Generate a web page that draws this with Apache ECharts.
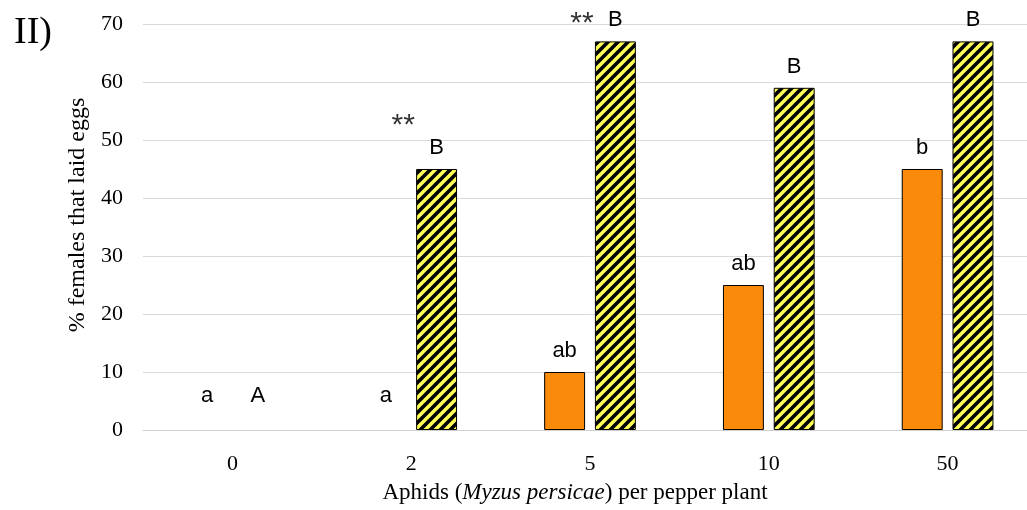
<!DOCTYPE html>
<html>
<head>
<meta charset="utf-8">
<script src="https://cdn.jsdelivr.net/npm/echarts@6/dist/echarts.min.js"></script>
<style>
  html, body { margin: 0; padding: 0; background: #fff; }
  #chart { width: 1027px; height: 510px; }
</style>
</head>
<body>
<div id="chart"></div>
<script>
// Aphid density treatments and oviposition results
const categories = ['0', '2', '5', '10', '50'];
const orangeValues = [0, 0, 10, 25, 45];
const stripedValues = [0, 45, 67, 59, 67];
const orangeLetters = ['a', 'a', 'ab', 'ab', 'b'];
const stripedLetters = ['A', 'B', 'B', 'B', 'B'];
// height at which the significance marks sit
const starLevels = [null, 52.4, 70, null, null];
const starMarks = ['', '**', '**', '', ''];

const SERIF = '"Liberation Serif", "DejaVu Serif", serif';
const SANS = '"Liberation Sans", "Noto Sans", sans-serif';

// yellow tile with black diagonal stripes
function stripePattern() {
  const s = 10;
  const c = document.createElement('canvas');
  c.width = s; c.height = s;
  const g = c.getContext('2d');
  g.fillStyle = '#ffff55';
  g.fillRect(0, 0, s, s);
  g.strokeStyle = '#000';
  g.lineWidth = 3.6;
  g.beginPath();
  g.moveTo(-2, s + 2); g.lineTo(s + 2, -2);
  g.moveTo(-2, 2); g.lineTo(2, -2);
  g.moveTo(s - 2, s + 2); g.lineTo(s + 2, s - 2);
  g.stroke();
  return c;
}

function barItems(values, letters) {
  return values.map((v, i) => ({
    value: v,
    itemStyle: v === 0 ? { borderWidth: 0 } : {},
    label: { distance: v === 0 ? 23 : 10, formatter: letters[i] }
  }));
}

const chart = echarts.init(document.getElementById('chart'));
chart.setOption({
  animation: false,
  title: {
    text: 'II)',
    left: 9, top: 9,
    textStyle: { fontFamily: SERIF, fontSize: 38, fontWeight: 'normal', color: '#000' }
  },
  grid: {
    left: 143, right: -10, top: 24, bottom: 80,
    containLabel: false,
    outerBoundsMode: 'none'
  },
  xAxis: {
    type: 'category',
    data: categories,
    axisTick: { show: false },
    axisLine: { lineStyle: { color: '#d0d0d0', width: 1 } },
    axisLabel: { fontFamily: SERIF, fontSize: 22, color: '#000', margin: 23 },
    name: '{n|Aphids (}{i|Myzus persicae}{n|) per pepper plant}',
    nameLocation: 'middle',
    nameGap: 51,
    nameTextStyle: {
      padding: [0, 30, 0, 0],
      rich: {
        n: { fontFamily: SERIF, fontSize: 23, color: '#000' },
        i: { fontFamily: SERIF, fontSize: 23, fontStyle: 'italic', color: '#000' }
      }
    }
  },
  yAxis: {
    type: 'value',
    min: 0, max: 70, interval: 10,
    axisLine: { show: false },
    axisTick: { show: false },
    splitLine: { lineStyle: { color: '#d9d9d9', width: 1 } },
    axisLabel: { fontFamily: SERIF, fontSize: 22, color: '#000', margin: 20 },
    name: '% females that laid eggs',
    nameLocation: 'middle',
    nameGap: 52,
    nameTextStyle: { fontFamily: SERIF, fontSize: 24, color: '#000', padding: [0, 0, 0, 24] }
  },
  series: [
    {
      type: 'bar',
      data: barItems(orangeValues, orangeLetters),
      barWidth: '22.9%',
      barGap: '24%',
      itemStyle: { color: '#fa8a0a', borderColor: '#000', borderWidth: 1 },
      label: { show: true, position: 'top', fontFamily: SANS, fontSize: 22, color: '#000' }
    },
    {
      type: 'bar',
      data: barItems(stripedValues, stripedLetters),
      barWidth: '22.9%',
      itemStyle: {
        color: { image: stripePattern(), repeat: 'repeat' },
        borderColor: '#000', borderWidth: 1
      },
      label: { show: true, position: 'top', fontFamily: SANS, fontSize: 22, color: '#000' }
    },
    {
      type: 'scatter',
      data: starLevels,
      clip: false,
      symbolSize: 1,
      itemStyle: { color: 'transparent' },
      z: 5,
      label: {
        show: true,
        position: 'inside',
        offset: [-8, 0],
        fontFamily: SANS,
        fontSize: 30,
        color: '#000',
        formatter: p => starMarks[p.dataIndex]
      }
    }
  ]
});
</script>
</body>
</html>
